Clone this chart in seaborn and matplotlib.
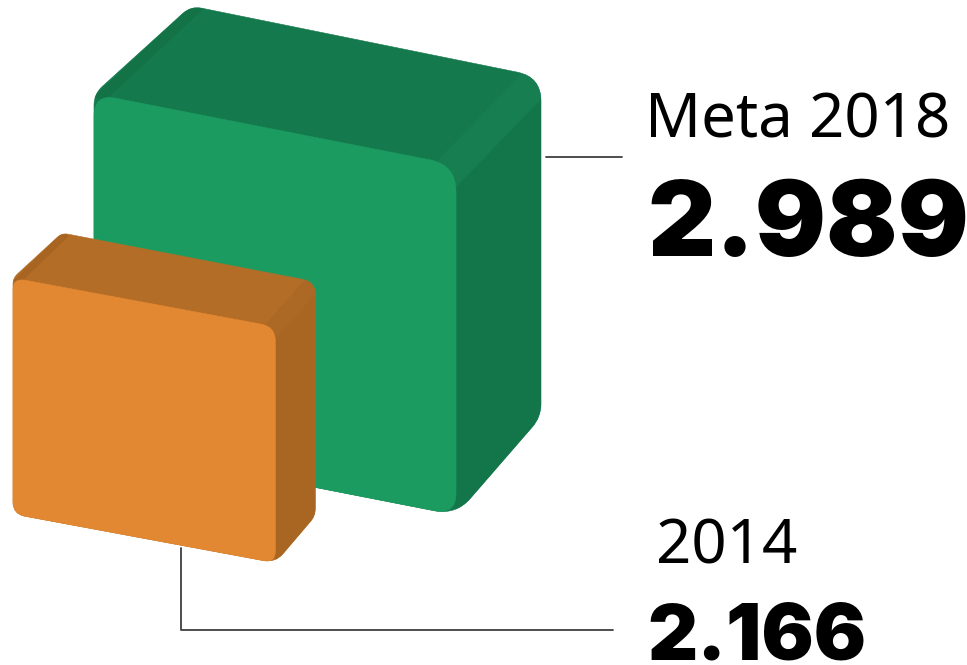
import matplotlib
matplotlib.use("Agg")
import matplotlib.pyplot as plt
import seaborn as sns
import numpy as np
from matplotlib.path import Path
from matplotlib.patches import PathPatch

labels = ["Meta 2018", "2014"]
values = [2989, 2166]
value_labels = ["2.989", "2.166"]

sns.set_theme(style="white")
plt.rcParams["font.family"] = ["Noto Sans", "DejaVu Sans"]

# pixels of front width per unit of value
unit = 362 / 2989


# polygon with rounded corners
def rounded(points, radii):
    pts = [np.array(p, dtype=float) for p in points]
    verts, codes = [], []
    n = len(pts)
    for i in range(n):
        p, prev, nxt = pts[i], pts[i - 1], pts[(i + 1) % n]
        a = p + (prev - p) / np.linalg.norm(prev - p) * radii[i]
        b = p + (nxt - p) / np.linalg.norm(nxt - p) * radii[i]
        verts.append(a)
        codes.append(Path.MOVETO if i == 0 else Path.LINETO)
        verts += [p, b]
        codes += [Path.CURVE3, Path.CURVE3]
    verts.append(verts[0])
    codes.append(Path.CLOSEPOLY)
    return Path(verts, codes)


def face(ax, path, color, clip=None):
    patch = PathPatch(path, facecolor=color, edgecolor=color, lw=0.4)
    ax.add_patch(patch)
    if clip is not None:
        patch.set_clip_path(clip)
    return patch


def box(ax, value, x, y, height, slope, dx_left, dx_right, dy, drop, r, colors):
    w = value * unit
    front_tl = (x, y)
    front_tr = (x + w, y + w * slope)
    front_br = (x + w, y + w * slope + height)
    front_bl = (x, y + height)
    back_tl = (x + dx_left, y - dy)
    back_tr = (x + w + dx_right, y + w * slope - dy)
    back_br = (x + w + dx_right, y + w * slope + height - dy - drop)
    c_front, c_top, c_side, c_strip, c_left = colors

    # whole outline first, in the top colour
    outline = face(ax, rounded([front_tl, back_tl, back_tr, back_br, front_br, front_bl],
                               [r * 0.5, r * 0.5, r * 1.1, r * 0.6, r, r]), c_top)
    # right side
    corner = (front_tr[0], front_tr[1] + r)
    corner2 = (back_tr[0], back_tr[1] + r)
    face(ax, Path([corner, corner2, back_br, front_br, corner]), c_side, outline)
    # strip over the rounded top right edge
    s = r * 0.9
    start = (front_tr[0] - s, front_tr[1] - s * slope + 1)
    face(ax, Path([start, (back_tr[0] - s, back_tr[1] - s * slope + 1),
                   back_tr, corner2, corner, start]), c_strip, outline)
    # thin strip on the left top edge
    t = r * 0.55
    face(ax, Path([(front_tl[0], front_tl[1] + 3), (back_tl[0], back_tl[1]),
                   (back_tl[0] + t, back_tl[1] + 3), (front_tl[0] + t, front_tl[1] + 5),
                   (front_tl[0], front_tl[1] + 3)]), c_left, outline)
    # front
    face(ax, rounded([front_tl, front_tr, front_br, front_bl],
                     [r, r * 1.2, r, r]), c_front)


def leader(ax, xs, ys):
    sns.lineplot(x=xs, y=ys, sort=False, estimator=None, color="#3f3f3f", linewidth=1.3, ax=ax)


fig, ax = plt.subplots(figsize=(9.67, 6.65), dpi=100)
fig.subplots_adjust(0, 0, 1, 1)
ax.set_xlim(0, 967)
ax.set_ylim(665, 0)

box(ax, values[0], 94, 94, 350, 0.196, 97, 85, 88, 10, 22,
    ["#1c9b60", "#14794d", "#13764a", "#167e50", "#137347"])
box(ax, values[1], 13, 278, 236, 0.186, 49, 40, 45, 2, 12,
    ["#e38832", "#b36d27", "#a96622", "#ab6925", "#a86521"])

leader(ax, [546, 622], [157, 157])
leader(ax, [181, 181, 613], [548, 630, 630])

ax.text(645, 138, labels[0], fontsize=44.5, color="black", ha="left", va="baseline")
ax.text(656, 563, labels[1], fontsize=44.5, color="black", ha="left", va="baseline")
big = ["Inter", "Lato", "DejaVu Sans"]
ax.text(647, 256, value_labels[0], fontsize=76, fontweight=900, family=big, color="black", ha="left", va="baseline")
ax.text(647, 659, value_labels[1], fontsize=56, fontweight=900, family=big, color="black", ha="left", va="baseline")

ax.set_xticks([])
ax.set_yticks([])
sns.despine(ax=ax, left=True, bottom=True)

fig.savefig("out.png", dpi=100)
